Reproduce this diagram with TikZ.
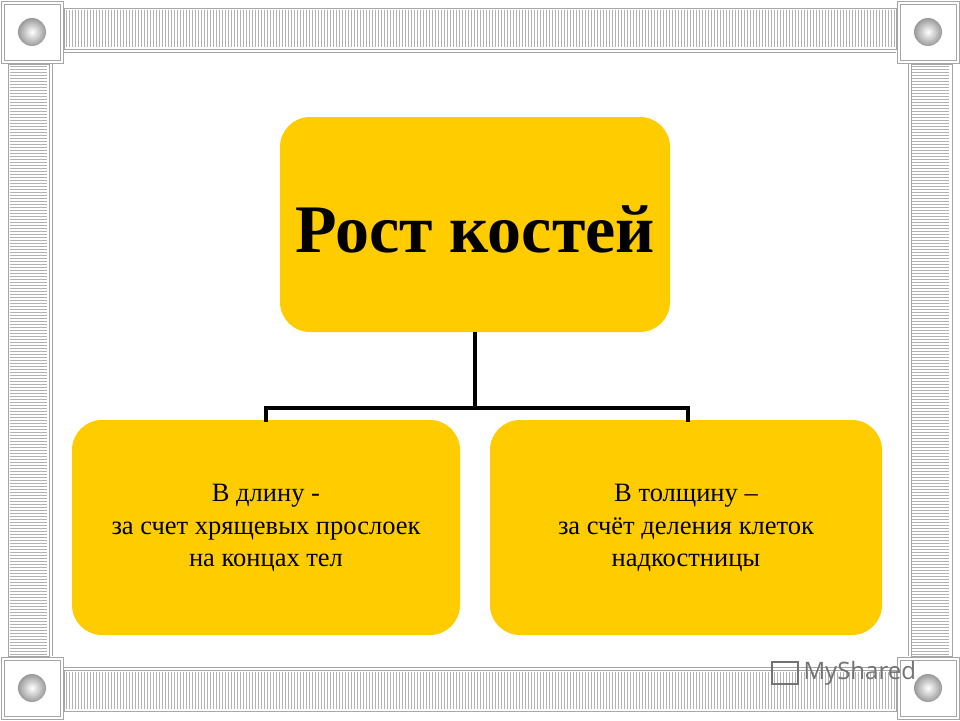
\documentclass[tikz,border=0pt]{standalone}
\usepackage{fontspec}
\setmainfont{Liberation Serif}
\newfontfamily\wm{Open Sans}
\definecolor{ybox}{HTML}{FFCC00}
\begin{document}
\begin{tikzpicture}[x=1pt,y=-1pt,
  ybx/.style={fill=ybox,rounded corners=30pt,draw=none},
  conn/.style={line width=4pt,line cap=butt},
  hatch/.style={draw=gray!60,line width=0.8pt},
  frm/.style={draw=gray!70,line width=0.8pt}]
\useasboundingbox (0,0) rectangle (960,720);
\fill[white] (0,0) rectangle (960,720);
% bars
\foreach \x in {66,69,...,894} {\draw[hatch] (\x,10) -- (\x,47); \draw[hatch] (\x,672) -- (\x,709);}
\foreach \y in {66,69,...,654} {\draw[hatch] (10,\y) -- (47,\y); \draw[hatch] (912,\y) -- (949,\y);}
\draw[frm] (64,8) rectangle (896,49); \draw[frm] (64,52) -- (896,52);
\draw[frm] (64,670) rectangle (896,711); \draw[frm] (64,667) -- (896,667);
\draw[frm] (8,64) rectangle (49,656); \draw[frm] (52,64) -- (52,656);
\draw[frm] (911,64) rectangle (952,656); \draw[frm] (908,64) -- (908,656);
% corners
\foreach \cx/\cy in {32/32,928/32,32/688,928/688} {
  \fill[white] (\cx-31,\cy-31) rectangle (\cx+31,\cy+31);
  \draw[frm] (\cx-31,\cy-31) rectangle (\cx+31,\cy+31);
  \draw[frm] (\cx-28,\cy-28) rectangle (\cx+28,\cy+28);
  \shade[inner color=white,outer color=gray!80] (\cx,\cy) circle (14);
}
% boxes
\node[ybx,minimum width=390pt,minimum height=215pt] (top) at (475,224.5) {};
\node[ybx,minimum width=388pt,minimum height=215pt] (left) at (266,527.5) {};
\node[ybx,minimum width=392pt,minimum height=215pt] (right) at (686,527.5) {};
\node[font=\fontsize{68pt}{72pt}\selectfont\bfseries] at (475,229) {Рост костей};
\node[font=\fontsize{26.5pt}{32.5pt}\selectfont,align=center] at (266,528) {В длину -\\за счет хрящевых прослоек\\на концах тел};
\node[font=\fontsize{26.5pt}{32.5pt}\selectfont,align=center] at (686,528) {В толщину –\\за счёт деления клеток\\надкостницы};
% connectors
\coordinate (j) at (475,408);
\draw[conn] (top.south) -- (j);
\draw[conn] (266,422) -- (266,408) -- (688,408) -- (688,422);
% watermark
\node[font=\wm\fontsize{24pt}{26pt}\selectfont,text=gray!90!black,anchor=west] (wmk) at (800,673) {MyShared};
\draw[gray!90!black,line width=1.5pt] (772,662) rectangle (798,684);
\end{tikzpicture}
\end{document}
